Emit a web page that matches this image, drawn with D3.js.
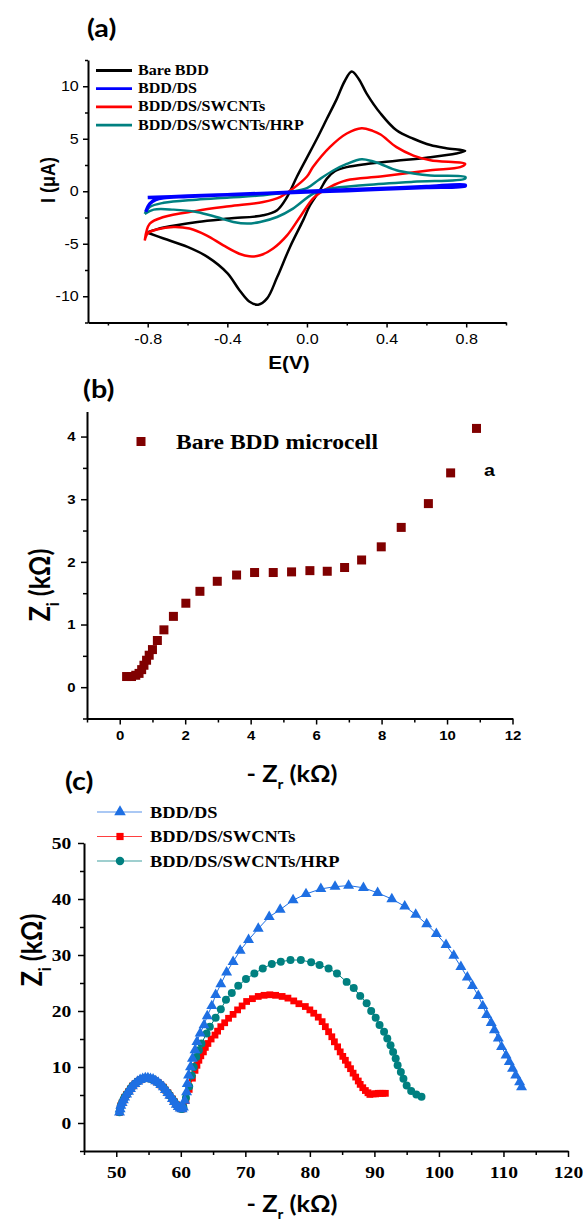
<!DOCTYPE html>
<html>
<head>
<meta charset="utf-8">
<script src="https://cdn.jsdelivr.net/npm/d3@7"></script>
<style>
  body { margin: 0; background: #fff; }
  svg { display: block; }
</style>
</head>
<body>
<div class="container"></div>
<script>
// text in the source figure is drawn a little wider than tall
var SX = 1.15;

// ---------- (a) cyclic voltammograms, [E (V), I (uA)] ----------
var cvNames = ["Bare BDD", "BDD/DS", "BDD/DS/SWCNTs", "BDD/DS/SWCNTs/HRP"];
var cvColors = ["#000000", "#0000ff", "#ff0000", "#008080"];
var cvBare = [[-0.80,-3.9],[-0.72,-3.46],[-0.55,-2.92],[-0.39,-2.6],[-0.22,-2.29],[-0.15,-1.8],[-0.10,-0.55],
  [-0.05,1.4],[0.0,3.2],[0.05,5.0],[0.10,6.9],[0.15,8.8],[0.19,10.5],[0.225,11.4],[0.26,10.7],[0.30,9.3],
  [0.37,7.4],[0.45,5.8],[0.535,5.0],[0.62,4.4],[0.70,4.1],[0.795,3.85],
  [0.75,3.6],[0.60,3.2],[0.45,2.9],[0.30,2.6],[0.20,2.3],[0.14,1.9],[0.10,1.2],[0.065,0.1],[0.015,-1.35],
  [-0.02,-2.8],[-0.085,-5.3],[-0.15,-8.2],[-0.20,-10.2],[-0.245,-10.8],[-0.29,-10.5],[-0.34,-9.4],
  [-0.40,-7.8],[-0.50,-6.25],[-0.60,-5.3],[-0.72,-4.5],[-0.80,-3.95]];
var cvDS = [[-0.80,-0.6],[-0.60,-0.45],[-0.40,-0.32],[-0.20,-0.18],[0.0,0.0],[0.20,0.15],[0.40,0.3],
  [0.60,0.45],[0.795,0.6],
  [0.795,0.5],[0.60,0.35],[0.40,0.2],[0.20,0.05],[0.0,-0.08],[-0.20,-0.2],[-0.40,-0.33],[-0.60,-0.5],
  [-0.72,-0.62],[-0.76,-0.8],[-0.79,-1.2],[-0.81,-1.97]];
var cvCNT = [[-0.815,-4.7],[-0.79,-3.1],[-0.72,-2.45],[-0.555,-1.87],[-0.39,-1.43],[-0.22,-1.02],[-0.135,-0.55],
  [-0.07,0.25],[0.0,1.4],[0.03,2.3],[0.115,4.2],[0.20,5.5],[0.275,6.0],[0.33,5.75],[0.37,5.4],[0.45,4.2],
  [0.535,3.4],[0.62,2.95],[0.795,2.6],
  [0.77,2.3],[0.62,2.0],[0.37,1.4],[0.20,1.05],[0.115,0.4],[0.035,-0.6],[-0.035,-2.45],[-0.10,-4.2],
  [-0.17,-5.45],[-0.235,-6.1],[-0.29,-6.2],[-0.34,-5.95],[-0.42,-5.15],[-0.505,-4.2],[-0.59,-3.55],
  [-0.67,-3.4],[-0.755,-3.65],[-0.80,-4.0],[-0.815,-4.7]];
var cvHRP = [[-0.815,-2.15],[-0.79,-1.5],[-0.72,-1.1],[-0.555,-0.8],[-0.39,-0.6],[-0.22,-0.38],[-0.085,-0.06],
  [0.0,0.3],[0.06,1.1],[0.13,1.95],[0.20,2.6],[0.275,3.05],[0.33,2.85],[0.37,2.6],[0.45,2.0],[0.535,1.7],
  [0.62,1.5],[0.795,1.36],
  [0.795,1.2],[0.535,0.9],[0.28,0.57],[0.115,0.25],[0.03,-0.25],[-0.07,-1.65],[-0.15,-2.45],[-0.235,-2.92],
  [-0.30,-3.08],[-0.37,-2.92],[-0.455,-2.45],[-0.555,-1.97],[-0.67,-1.75],[-0.77,-1.75],[-0.815,-2.15]];
var cvTicksX = [-0.8, -0.4, 0, 0.4, 0.8];
var cvMinorX = [-1.0, -0.6, -0.2, 0.2, 0.6, 1.0];
var cvTicksY = [-10, -5, 0, 5, 10];
var cvMinorY = [-12.5, -7.5, -2.5, 2.5, 7.5, 12.5];

// ---------- (b) Nyquist plot of bare BDD microcell, [-Zr, Zi] in kOhm ----------
var eisBare = [[0.21,0.17],[0.36,0.17],[0.49,0.19],[0.59,0.22],[0.67,0.28],[0.74,0.35],[0.82,0.43],[0.90,0.51],
  [1.0,0.60],[1.15,0.745],[1.35,0.915],[1.64,1.13],[2.02,1.34],[2.45,1.53],[2.98,1.69],[3.57,1.79],
  [4.12,1.83],[4.69,1.83],[5.25,1.84],[5.81,1.86],[6.34,1.85],[6.87,1.91],[7.39,2.03],[7.99,2.24],
  [8.60,2.55],[9.43,2.93],[10.11,3.42],[10.90,4.13]];
var bTicksX = [0, 2, 4, 6, 8, 10, 12];
var bMinorX = [-1, 1, 3, 5, 7, 9, 11];
var bTicksY = [0, 1, 2, 3, 4];
var bMinorY = [-0.5, 0.5, 1.5, 2.5, 3.5];

// ---------- (c) Nyquist plots of modified electrodes, [-Zr, Zi] in kOhm ----------
var eisNames = ["BDD/DS", "BDD/DS/SWCNTs", "BDD/DS/SWCNTs/HRP"];
var eisColors = ["#1e6fe3", "#ff0000", "#008080"];
// high frequency arc, common to the three electrodes (markers packed tightly)
var eisArcHF = [[50.5,1.9],[50.6,2.5],[50.7,3.1],[50.9,3.6],[51.1,4.1],[51.3,4.6],[51.6,5.1],[51.9,5.6],
  [52.2,6.1],[52.5,6.6],[52.9,7.0],[53.3,7.4],[53.7,7.7],[54.1,7.9],[54.5,8.0],[54.9,8.0],[55.3,7.9],
  [55.7,7.8],[56.1,7.5],[56.5,7.2],[56.9,6.8],[57.3,6.4],[57.6,5.9],[58.0,5.4],[58.3,4.9],[58.7,4.3],
  [59.0,3.8],[59.3,3.3],[59.6,2.9],[59.9,2.6],[60.2,2.5],[60.4,2.8]];
var eisDS = eisArcHF.concat([[60.6,4.0],[60.9,5.5],[61.0,7.0],[61.2,8.5],[61.5,10.0],[61.8,11.5],[62.2,13.0],
  [62.5,14.5],[63.0,16.0],[63.6,17.5],[64.1,19.1],[64.8,20.9],[65.4,22.9],[66.2,24.8],[67.1,26.9],
  [68.1,28.8],[69.2,30.8],[70.5,32.7],[72.0,34.7],[73.7,36.8],[75.4,38.1],[77.4,39.8],[79.4,40.9],
  [81.7,41.8],[83.9,42.2],[86.0,42.4],[88.3,42.0],[90.5,41.1],[92.7,40.0],[94.7,38.7],[96.4,37.2],
  [98.1,35.5],[99.6,33.8],[101.1,31.8],[102.3,29.9],[103.4,27.9],[104.4,26.0],[105.2,24.5],[106.1,22.7],
  [106.8,20.9],[107.4,19.3],[108.1,17.9],[108.6,16.6],[109.2,15.1],[109.7,13.6],[110.4,12.1],[110.9,10.9],
  [111.4,9.7],[111.9,8.5],[112.5,7.3],[112.8,6.4]]);
var eisCNT = eisArcHF.concat([[60.8,4.0],[61.3,6.0],[61.8,8.0],[62.2,9.4],[62.5,10.3],[62.8,11.2],[63.1,12.0],
  [63.5,12.7],[63.8,13.5],[64.2,14.2],[64.7,15.0],[65.3,15.7],[65.7,16.4],[66.2,17.2],[66.8,17.9],
  [67.4,18.7],[68.1,19.4],[68.8,20.2],[69.5,20.9],[70.2,21.7],[71.1,22.2],[72.0,22.6],[72.9,22.8],
  [73.8,22.9],[74.7,22.8],[75.7,22.6],[76.6,22.3],[77.5,21.8],[78.3,21.3],[79.3,20.8],[80.0,20.2],
  [80.6,19.6],[81.3,18.9],[81.9,18.1],[82.4,17.2],[82.9,16.3],[83.4,15.4],[83.8,14.5],[84.3,13.6],
  [84.7,12.7],[85.1,11.9],[85.5,11.2],[85.9,10.4],[86.3,9.7],[86.7,8.9],[87.1,8.2],[87.5,7.5],[87.8,6.9],
  [88.2,6.3],[88.6,5.8],[89.0,5.4],[89.3,5.1],[89.8,5.2],[90.2,5.2],[90.6,5.3],[90.9,5.3],[91.3,5.3],[91.7,5.3]]);
var eisHRP = eisArcHF.concat([[60.8,4.5],[61.3,6.5],[61.7,8.5],[62.0,10.0],[62.4,11.8],[62.8,13.0],[63.2,14.2],
  [64.0,16.0],[64.5,17.2],[65.4,18.8],[66.2,20.3],[67.0,22.0],[67.9,23.2],[68.9,24.5],[70.1,25.7],
  [71.4,26.7],[72.7,27.6],[74.1,28.4],[75.5,28.8],[77.0,29.1],[78.6,29.1],[80.2,28.7],[81.5,28.2],
  [82.9,27.6],[84.2,26.7],[85.7,25.2],[86.8,24.1],[87.8,22.7],[88.8,21.4],[89.5,20.0],[90.2,18.8],
  [90.8,17.5],[91.5,16.3],[92.0,15.1],[92.5,13.9],[92.9,12.7],[93.3,11.5],[93.6,10.3],[94.1,9.1],
  [94.5,7.9],[95.0,6.7],[95.7,5.7],[96.5,5.1],[97.3,4.7]]);
var cTicksX = [50, 60, 70, 80, 90, 100, 110, 120];
var cMinorX = [45, 55, 65, 75, 85, 95, 105, 115];
var cTicksY = [0, 10, 20, 30, 40, 50];
var cMinorY = [-5, 5, 15, 25, 35, 45];

var SERIF = "'Liberation Serif', 'Times New Roman', serif";
var SANS = "'Liberation Sans', Arial, sans-serif";
var CALI = "Lato, 'Open Sans', sans-serif";

var svg = d3.select(".container")
    .append("svg")
    .attr("width", 583)
    .attr("height", 1223);

function drawAxes(g, x, y, o) {
    var y0 = y.range()[0], x0 = x.range()[0];
    g.append("g").attr("transform", "translate(0," + y0 + ")")
        .call(d3.axisBottom(x).tickValues(o.xMinor).tickSize(o.minor).tickSizeOuter(0).tickFormat(""))
        .call(function (a) { a.select(".domain").remove(); a.selectAll("line").attr("stroke-width", 1.5); });
    g.append("g").attr("transform", "translate(" + x0 + ",0)")
        .call(d3.axisLeft(y).tickValues(o.yMinor).tickSize(o.minor).tickSizeOuter(0).tickFormat(""))
        .call(function (a) { a.select(".domain").remove(); a.selectAll("line").attr("stroke-width", 1.5); });
    var gx = g.append("g").attr("transform", "translate(0," + y0 + ")")
        .call(d3.axisBottom(x).tickValues(o.xMajor).tickSize(o.major).tickSizeOuter(0)
            .tickPadding(o.padX).tickFormat(o.xFmt));
    var gy = g.append("g").attr("transform", "translate(" + x0 + ",0)")
        .call(d3.axisLeft(y).tickValues(o.yMajor).tickSize(o.major).tickSizeOuter(0)
            .tickPadding(o.padY).tickFormat(o.yFmt));
    [gx, gy].forEach(function (a) {
        a.attr("font-family", o.font).attr("font-size", o.size).attr("font-weight", o.weight);
        a.select(".domain").attr("stroke-width", 2);
        a.selectAll(".tick line").attr("stroke-width", 1.5);
        a.selectAll(".tick text").attr("fill", "#000").attr("transform", "scale(" + SX + ",1)");
    });
}

function label(x, y, str, font, size, weight, anchor) {
    return svg.append("text")
        .attr("transform", "translate(" + x + "," + y + ") scale(" + SX + ",1)")
        .attr("font-family", font)
        .attr("font-size", size)
        .attr("font-weight", weight || "bold")
        .attr("text-anchor", anchor || "start")
        .text(str);
}

// Z with subscript, then (kOhm)
function zTitle(t, pre, sub, size) {
    t.append("tspan").text(pre + "Z");
    t.append("tspan").attr("font-size", size * 0.62).attr("dy", size * 0.3).text(sub);
    t.append("tspan").attr("dy", -size * 0.3).text(" (k\u03A9)");
}

function xTitle(cx, y, size) {
    var t = svg.append("text")
        .attr("transform", "translate(" + cx + "," + y + ") scale(" + SX + ",1)")
        .attr("font-family", CALI).attr("font-size", size).attr("font-weight", "bold")
        .attr("text-anchor", "middle");
    zTitle(t, "- ", "r", size);
}

function yTitle(x, cy, size) {
    var t = svg.append("text")
        .attr("transform", "translate(" + x + "," + cy + ") rotate(-90) scale(1," + SX + ")")
        .attr("font-family", CALI).attr("font-size", size).attr("font-weight", "bold")
        .attr("text-anchor", "middle");
    zTitle(t, "", "i", size);
}

// ===================== panel (a) =====================
var xa = d3.scaleLinear().domain([-1.1, 1.0]).range([88, 506]);
var ya = d3.scaleLinear().domain([-12.5, 12.5]).range([322.5, 60]);
var ga = svg.append("g");
drawAxes(ga, xa, ya, {
    xMajor: cvTicksX, xMinor: cvMinorX, yMajor: cvTicksY, yMinor: cvMinorY,
    xFmt: function (d) { return d.toFixed(1); }, yFmt: function (d) { return String(d); },
    major: 5, minor: 3, padX: 7, padY: 3, font: SANS, size: 14, weight: "normal"
});

var cvLine = d3.line()
    .x(function (d) { return xa(d[0]); })
    .y(function (d) { return ya(d[1]); })
    .curve(d3.curveCatmullRom.alpha(0.5));
var cvData = [cvBare, cvDS, cvCNT, cvHRP];
[0, 2, 3, 1].forEach(function (i) {
    ga.append("path")
        .datum(cvData[i])
        .attr("d", cvLine)
        .attr("fill", "none")
        .attr("stroke", cvColors[i])
        .attr("stroke-width", i === 1 ? 3.4 : 2.5)
        .attr("stroke-linejoin", "round");
});

var legA = ga.append("g");
cvNames.forEach(function (n, i) {
    var yy = 70.5 + i * 18.2;
    legA.append("line").attr("x1", 96).attr("x2", 132).attr("y1", yy).attr("y2", yy)
        .attr("stroke", cvColors[i]).attr("stroke-width", 2.8);
    label(138, yy + 4.5, n, SERIF, 14);
});

label(87, 37, "(a)", CALI, 25);
label(289, 369, "E(V)", SANS, 18, "bold", "middle");
svg.append("text")
    .attr("transform", "translate(55,180) rotate(-90) scale(1," + SX + ")")
    .attr("font-family", SANS).attr("font-size", 18).attr("font-weight", "bold")
    .attr("text-anchor", "middle")
    .text("I (\u03BCA)");

// ===================== panel (b) =====================
var xb = d3.scaleLinear().domain([-1, 12]).range([87, 512.5]);
var yb = d3.scaleLinear().domain([-0.5, 4.4]).range([718.5, 411.5]);
var gb = svg.append("g");
drawAxes(gb, xb, yb, {
    xMajor: bTicksX, xMinor: bMinorX, yMajor: bTicksY, yMinor: bMinorY,
    xFmt: d3.format("d"), yFmt: d3.format("d"),
    major: 6, minor: 4, padX: 6, padY: 4, font: SANS, size: 13, weight: "bold"
});
gb.append("g").selectAll("rect")
    .data(eisBare)
    .enter()
    .append("rect")
    .attr("x", function (d) { return xb(d[0]) - 4.5; })
    .attr("y", function (d) { return yb(d[1]) - 4.5; })
    .attr("width", 9)
    .attr("height", 9)
    .style("fill", "#800000");
gb.append("rect").attr("x", 136.5).attr("y", 437).attr("width", 9).attr("height", 9).style("fill", "#800000");
label(176, 449, "Bare BDD microcell", SERIF, 20.5);
label(484, 476, "a", SANS, 17);
label(83, 398, "(b)", CALI, 25);
xTitle(292, 782, 22);
yTitle(50, 585, 25);

// ===================== panel (c) =====================
var xc = d3.scaleLinear().domain([45, 120]).range([84, 568]);
var yc = d3.scaleLinear().domain([-5, 50]).range([1151, 843]);
var gc = svg.append("g");
drawAxes(gc, xc, yc, {
    xMajor: cTicksX, xMinor: cMinorX, yMajor: cTicksY, yMinor: cMinorY,
    xFmt: d3.format("d"), yFmt: d3.format("d"),
    major: 6, minor: 4, padX: 9, padY: 5, font: SERIF, size: 17, weight: "bold"
});

var eisData = [eisDS, eisCNT, eisHRP];
var eisSymbols = [d3.symbolTriangle, d3.symbolSquare, d3.symbolCircle];
var eisSizes = [52, 46, 50];
var eisLine = d3.line()
    .x(function (d) { return xc(d[0]); })
    .y(function (d) { return yc(d[1]); });
[1, 2, 0].forEach(function (i) {
    var s = gc.append("g");
    s.append("path")
        .datum(eisData[i])
        .attr("d", eisLine)
        .attr("fill", "none")
        .attr("stroke", eisColors[i])
        .attr("stroke-width", 1);
    s.selectAll("path.pt")
        .data(eisData[i])
        .enter()
        .append("path")
        .attr("class", "pt")
        .attr("transform", function (d) { return "translate(" + xc(d[0]) + "," + yc(d[1]) + ")"; })
        .attr("d", d3.symbol().type(eisSymbols[i]).size(eisSizes[i]))
        .style("fill", eisColors[i]);
});

eisNames.forEach(function (n, i) {
    var yy = 812 + i * 24.5;
    gc.append("line").attr("x1", 97).attr("x2", 142).attr("y1", yy).attr("y2", yy)
        .attr("stroke", eisColors[i]).attr("stroke-width", 1.2).attr("opacity", 0.75);
    gc.append("path")
        .attr("transform", "translate(120," + yy + ")")
        .attr("d", d3.symbol().type(eisSymbols[i]).size(eisSizes[i] + 6))
        .style("fill", eisColors[i]);
    label(150, yy + 5.5, n, SERIF, 16);
});

label(65, 790, "(c)", CALI, 25);
xTitle(292, 1212, 22);
yTitle(42, 950, 25);
</script>
</body>
</html>
